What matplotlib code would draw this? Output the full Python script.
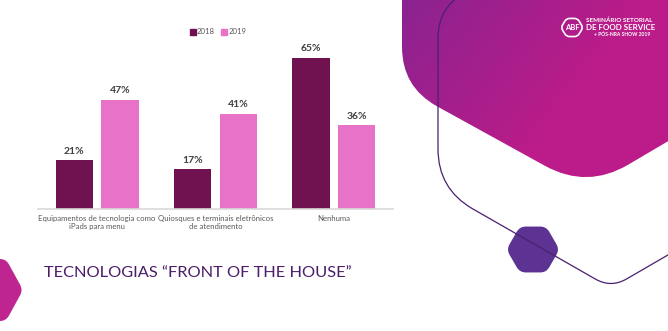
import numpy as np
import matplotlib.pyplot as plt
from matplotlib.path import Path
from matplotlib.patches import PathPatch
from matplotlib.lines import Line2D

categories = ["Equipamentos de tecnologia como\niPads para menu",
              "Quiosques e terminais eletrônicos\nde atendimento",
              "Nenhuma"]
years = ["2018", "2019"]
vals_2018 = [21, 17, 65]
vals_2019 = [47, 41, 36]

C2018 = "#711250"
C2019 = "#E872C8"
FONT = ["Lato", "DejaVu Sans"]

W, H = 668, 331
fig = plt.figure(figsize=(W / 100, H / 100), dpi=100)
fig.patch.set_facecolor("white")

# background layer in pixel coordinates (y down)
bg = fig.add_axes([0, 0, 1, 1])
bg.set_xlim(0, W)
bg.set_ylim(H, 0)
bg.axis("off")


def rounded_path(verts, radii):
    pts, codes = [], []
    n = len(verts)
    for i in range(n):
        p = np.array(verts[i], float)
        prv = np.array(verts[i - 1], float)
        nxt = np.array(verts[(i + 1) % n], float)
        r = radii[i]
        a = p + (prv - p) / np.linalg.norm(prv - p) * r
        b = p + (nxt - p) / np.linalg.norm(nxt - p) * r
        pts.append(a)
        codes.append(Path.MOVETO if i == 0 else Path.LINETO)
        pts += [p, b]
        codes += [Path.CURVE3, Path.CURVE3]
    pts.append(pts[0])
    codes.append(Path.CLOSEPOLY)
    return Path(pts, codes)


# big gradient shape, top right
big = rounded_path([(402, -120), (402, 87), (587, 189), (760, 87), (760, -120)],
                   [0, 40, 48, 0, 0])
gx, gy = np.meshgrid(np.linspace(395, 668, 300), np.linspace(0, 200, 200))
t = np.clip(((gx - 400) * 0.8 + gy * 0.6) / 200, 0, 1)
c0 = np.array([0x8A, 0x23, 0x90]) / 255
c1 = np.array([0xBC, 0x1C, 0x89]) / 255
img = c0 + (c1 - c0) * t[..., None]
patch = PathPatch(big, facecolor="none", edgecolor="none")
bg.add_patch(patch)
im = bg.imshow(img, extent=(395, 668, 200, 0), origin="upper", zorder=1)
im.set_clip_path(patch)
bg.set_xlim(0, W)
bg.set_ylim(H, 0)

# thin outline
outline = rounded_path([(438, 8), (438, 189), (611, 288), (780, 190), (780, -72), (576, -72)],
                       [30, 40, 18, 0, 0, 0])
bg.add_patch(PathPatch(outline, facecolor="none", edgecolor="#4A2070", lw=0.9, zorder=3))

# small hexagon
cx, cy, R = 533, 249.5, 26.5
ang = np.deg2rad(np.arange(0, 360, 60))
hexv = list(zip(cx + R * np.cos(ang), cy + R * np.sin(ang)))
bg.add_patch(PathPatch(rounded_path(hexv, [6] * 6), facecolor="#5C3392",
                       edgecolor="none", zorder=2))

# left bottom shape
left = rounded_path([(-40, 259), (6, 259), (23, 290), (6, 321), (-40, 321)],
                    [0, 6, 6, 6, 0])
bg.add_patch(PathPatch(left, facecolor="#BE2590", edgecolor="none", zorder=2))

# logo
lc, lr = (572, 27.5), 11
lhex = list(zip(lc[0] + lr * np.cos(ang), lc[1] + lr * 0.95 * np.sin(ang)))
bg.add_patch(PathPatch(rounded_path(lhex, [3] * 6), facecolor="none",
                       edgecolor="white", lw=1.2, zorder=4))
bg.text(lc[0], lc[1] + 0.5, "ABF", color="white", fontsize=5.5, fontweight="bold",
        ha="center", va="center", family=FONT, zorder=5)
bg.text(586, 20, "SEMINÁRIO SETORIAL", color="white", fontsize=4.6, fontweight="bold",
        ha="left", va="center", family=FONT, zorder=5)
bg.text(586, 27.5, "DE FOOD SERVICE", color="white", fontsize=5.8, fontweight="bold",
        ha="left", va="center", family=FONT, zorder=5)
bg.text(650, 34.5, "+ PÓS-NRA SHOW 2019", color="white", fontsize=3.6, fontweight="bold",
        ha="right", va="center", family=FONT, zorder=5)

# title
bg.text(44, 273, "TECNOLOGIAS “FRONT OF THE HOUSE”", color="#4B1D6A", fontsize=11.8,
        ha="left", va="center", family=FONT, zorder=5)

# bar chart
ax = fig.add_axes([38 / W, 122 / H, 355 / W, 163 / H])
ax.set_facecolor("none")
x = np.arange(len(categories))
off, bw = 0.193, 0.313
b1 = ax.bar(x - off, vals_2018, bw, color=C2018, label=years[0])
b2 = ax.bar(x + off, vals_2019, bw, color=C2019, label=years[1])
for bars, vals in [(b1, vals_2018), (b2, vals_2019)]:
    ax.bar_label(bars, labels=[f"{v}%" for v in vals], padding=3, fontsize=7.5,
                 fontweight="bold", color="#404040", family=FONT)
ax.set_xlim(-0.5, 2.5)
ax.set_ylim(0, 70)
ax.set_yticks([])
ax.set_xticks(x)
ax.set_xticklabels(categories, fontsize=5.6, color="#595959", family=FONT,
                   linespacing=1.25)
ax.tick_params(axis="x", length=0, pad=4)
for s in ["top", "left", "right"]:
    ax.spines[s].set_visible(False)
ax.spines["bottom"].set_color("#D9D9D9")
ax.spines["bottom"].set_linewidth(1.2)

handles = [Line2D([], [], marker="s", ls="", color=C2018, markersize=4),
           Line2D([], [], marker="s", ls="", color=C2019, markersize=4)]
fig.legend(handles, years, loc="center", bbox_to_anchor=(218 / W, 1 - 32 / H),
           ncol=2, frameon=False, prop={"family": FONT, "size": 5.6},
           labelcolor="#595959", handlelength=0.7, handletextpad=0.2,
           columnspacing=0.8, borderpad=0)

fig.savefig("out.png", dpi=100)
